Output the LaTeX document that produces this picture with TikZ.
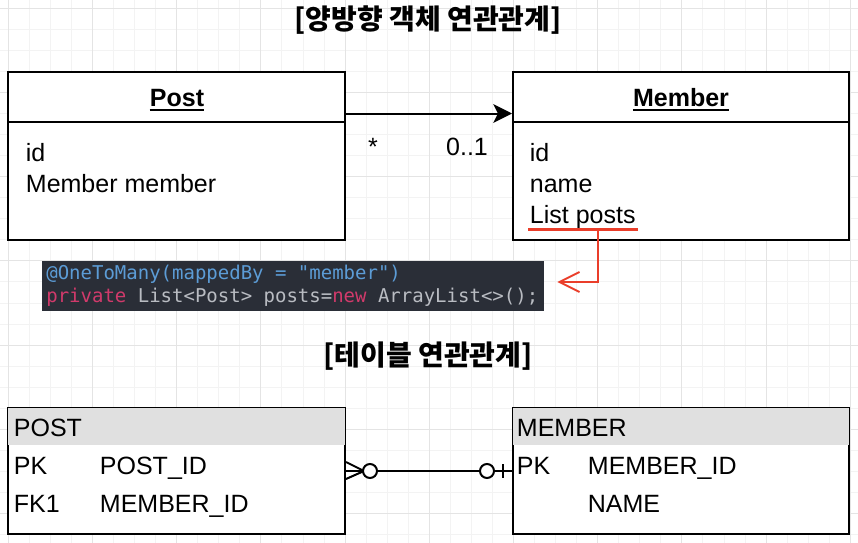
\documentclass[tikz,border=0pt]{standalone}
\usepackage{fontspec}
\setmainfont{Liberation Sans}
\setmonofont{DejaVu Sans Mono}
\newfontfamily\krfont{Noto Sans CJK KR}
\usetikzlibrary{arrows.meta,calc}

\definecolor{gridminor}{RGB}{243,243,243}
\definecolor{gridmajor}{RGB}{228,228,228}
\definecolor{hdrgray}{RGB}{224,224,224}
\definecolor{codebg}{RGB}{42,46,55}
\definecolor{codeblue}{RGB}{92,156,214}
\definecolor{codepink}{RGB}{209,58,107}
\definecolor{codegray}{RGB}{185,188,194}
\definecolor{markred}{RGB}{234,62,42}

\begin{document}
\begin{tikzpicture}[x=0.75pt,y=-0.75pt,
  every node/.style={font=\fontsize{18.75}{22}\selectfont},
  box/.style={draw,line width=1.5pt,fill=white,inner sep=0pt},
  fld/.style={anchor=base west,inner sep=2pt},
  hdr/.style={anchor=base,inner sep=0pt,font=\bfseries\fontsize{18.75}{22}\selectfont},
  title/.style={font=\krfont\bfseries\fontsize{21}{24}\selectfont},
  assoc/.style={line width=1.5pt,-{Stealth[length=14pt,width=14pt,inset=3.5pt]}},
  erline/.style={line width=1.5pt},
  redline/.style={markred,line width=1.5pt}]
  \useasboundingbox (0,0) rectangle (858,543);
  \fill[white] (0,0) rectangle (858,543);
  % background grid
  \foreach \k in {0,...,40}
    \draw[gridminor,line width=0.75pt] ({8.3+21.05*\k},0) -- ({8.3+21.05*\k},543);
  \foreach \k in {0,...,25}
    \draw[gridminor,line width=0.75pt] (0,{8.3+21.05*\k}) -- (858,{8.3+21.05*\k});
  \foreach \k in {0,4,...,40}
    \draw[gridmajor,line width=0.75pt] ({8.3+21.05*\k},0) -- ({8.3+21.05*\k},543);
  \foreach \k in {0,4,...,24}
    \draw[gridmajor,line width=0.75pt] (0,{8.3+21.05*\k}) -- (858,{8.3+21.05*\k});

  \node[title] (objtitle) at (428,20) {[양방향 객체 연관관계]};

  % objects
  \node[box,minimum width=337*0.75pt,minimum height=168*0.75pt] (post) at (176.5,156) {};
  \draw[erline] ($(post.north west)+(0,51)$) -- ($(post.north east)+(0,51)$);
  \node[hdr] (posthd) at (177,106) {Post};
  \draw[line width=1.5pt] ($(posthd.base west)+(0,4)$) -- ($(posthd.base east)+(0,4)$);
  \node[fld] (postid) at (23,161) {id};
  \node[fld] (postmem) at (23,192) {Member member};

  \node[box,minimum width=336*0.75pt,minimum height=168*0.75pt] (member) at (681,156) {};
  \draw[erline] ($(member.north west)+(0,51)$) -- ($(member.north east)+(0,51)$);
  \node[hdr] (memhd) at (681,106) {Member};
  \draw[line width=1.5pt] ($(memhd.base west)+(0,4)$) -- ($(memhd.base east)+(0,4)$);
  \node[fld] (memid) at (527,161) {id};
  \node[fld] (memname) at (527,192) {name};
  \node[fld] (memposts) at (527,223) {List posts};

  \draw[assoc] ($(post.north east)!0.25!(post.south east)$) -- ($(member.north west)!0.25!(member.south west)$);
  \node[anchor=base] (many) at (373,155) {*};
  \node[anchor=base] (one) at (467,155) {0..1};

  % mappedBy code
  \node[fill=codebg,minimum width=502*0.75pt,minimum height=50*0.75pt,inner xsep=3.25pt,
        text width=370pt,align=left,text=codegray,
        font=\ttfamily\fontsize{14.25}{17.25}\selectfont]
    (code) at (293,286)
    {\spaceskip=0.602em\relax
     {\color{codeblue}@OneToMany(mappedBy = "member")}\\
     {\color{codepink}private} List<Post> posts={\color{codepink}new} ArrayList<>();};

  \draw[markred,line width=2.25pt] ($(memposts.base west)+(1,6)$) -- ($(memposts.base east)+(0,6)$);
  \coordinate (ulmid) at ($(memposts.base west)+(71,6)$);
  \coordinate (codetip) at ($(code.east)+(13,-4)$);
  \draw[redline,-{Straight Barb[length=15pt,width=15pt]}] (ulmid) |- (codetip);

  \node[title] (tbltitle) at (428,356) {[테이블 연관관계]};

  % tables
  \node[box,minimum width=337*0.75pt,minimum height=126*0.75pt] (posttbl) at (176.5,471) {};
  \fill[hdrgray] ($(posttbl.north west)+(1,1)$) rectangle ($(posttbl.north east)+(-1,38)$);
  \node[fld] (posttblhd) at (11,436) {POST};
  \node[fld] (postpk) at (11,474) {PK};
  \node[fld] (postpkcol) at (97,474) {POST\_ID};
  \node[fld] (postfk) at (11,512) {FK1};
  \node[fld] (postfkcol) at (97,512) {MEMBER\_ID};

  \node[box,minimum width=336*0.75pt,minimum height=126*0.75pt] (memtbl) at (681,471) {};
  \fill[hdrgray] ($(memtbl.north west)+(1,1)$) rectangle ($(memtbl.north east)+(-1,38)$);
  \node[fld] (memtblhd) at (514,436) {MEMBER};
  \node[fld] (mempk) at (514,474) {PK};
  \node[fld] (mempkcol) at (585,474) {MEMBER\_ID};
  \node[fld] (memnamecol) at (585,512) {NAME};

  % relation
  \draw[erline] (posttbl.east) -- (memtbl.west);
  \draw[erline] ($(posttbl.east)+(0,-9)$) -- ($(posttbl.east)+(18,0)$) -- ($(posttbl.east)+(0,8)$);
  \draw[erline,fill=white] ($(posttbl.east)+(24,0)$) circle[radius=7];
  \draw[erline,fill=white] ($(memtbl.west)+(-25,0)$) circle[radius=7];
  \draw[erline] ($(memtbl.west)+(-9,-7)$) -- ($(memtbl.west)+(-9,7)$);
\end{tikzpicture}
\end{document}
